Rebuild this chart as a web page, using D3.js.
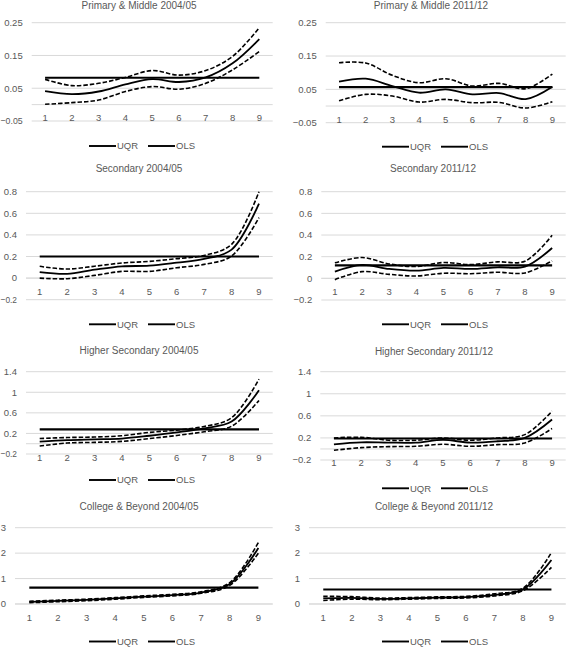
<!DOCTYPE html>
<html>
<head>
<meta charset="utf-8">
<script src="https://cdn.jsdelivr.net/npm/d3@7"></script>
<style>
  html, body { margin: 0; padding: 0; background: #fff; }
  svg { display: block; }
  text { font-family: "Liberation Sans", Arial, sans-serif; fill: #595959; }
</style>
</head>
<body>
<svg id="chart" width="567" height="647"></svg>
<script>
// ---------------- DATA ----------------
const categories = ["1", "2", "3", "4", "5", "6", "7", "8", "9"];

const titles = [
  "Primary & Middle 2004/05", "Primary & Middle 2011/12",
  "Secondary 2004/05", "Secondary  2011/12",
  "Higher Secondary 2004/05", "Higher Secondary 2011/12",
  "College & Beyond 2004/05", "College & Beyond 2011/12"
];

// y-axis tick values for each row
const yTicksPrimary = [-0.05, 0.05, 0.15, 0.25];
const yTicksSecondary = [-0.2, 0, 0.2, 0.4, 0.6, 0.8];
const yTicksHigher = [-0.2, 0.2, 0.6, 1, 1.4];
const yTicksCollege = [0, 1, 2, 3];

// UQR estimates
const uqr1 = [0.041, 0.032, 0.040, 0.062, 0.078, 0.069, 0.083, 0.126, 0.200];
const uqr2 = [0.073, 0.082, 0.060, 0.040, 0.050, 0.035, 0.039, 0.021, 0.058];
const uqr3 = [0.056, 0.040, 0.078, 0.109, 0.115, 0.143, 0.177, 0.264, 0.690];
const uqr4 = [0.062, 0.124, 0.087, 0.071, 0.096, 0.087, 0.102, 0.109, 0.280];
const uqr5 = [0.039, 0.070, 0.085, 0.100, 0.155, 0.220, 0.300, 0.430, 1.040];
const uqr6 = [0.085, 0.120, 0.115, 0.115, 0.165, 0.115, 0.140, 0.200, 0.533];
const uqr7 = [0.08, 0.12, 0.16, 0.22, 0.29, 0.35, 0.45, 0.79, 2.20];
const uqr8 = [0.22, 0.24, 0.20, 0.22, 0.25, 0.27, 0.36, 0.57, 1.73];

// Upper confidence bounds
const upper1 = [0.077, 0.058, 0.065, 0.083, 0.104, 0.090, 0.104, 0.147, 0.235];
const upper2 = [0.130, 0.129, 0.092, 0.070, 0.082, 0.060, 0.068, 0.052, 0.096];
const upper3 = [0.109, 0.084, 0.110, 0.140, 0.155, 0.180, 0.210, 0.313, 0.800];
const upper4 = [0.143, 0.192, 0.133, 0.109, 0.146, 0.127, 0.152, 0.158, 0.397];
const upper5 = [0.100, 0.120, 0.130, 0.155, 0.220, 0.265, 0.335, 0.505, 1.255];
const upper6 = [0.200, 0.212, 0.158, 0.158, 0.200, 0.158, 0.200, 0.260, 0.685];
const upper7 = [0.11, 0.15, 0.19, 0.25, 0.32, 0.38, 0.48, 0.84, 2.42];
const upper8 = [0.30, 0.29, 0.23, 0.25, 0.28, 0.30, 0.40, 0.62, 2.02];

// Lower confidence bounds
const lower1 = [0.001, 0.006, 0.014, 0.040, 0.055, 0.047, 0.065, 0.106, 0.162];
const lower2 = [0.016, 0.035, 0.030, 0.012, 0.020, 0.010, 0.011, -0.006, 0.013];
const lower3 = [0.000, -0.006, 0.025, 0.062, 0.062, 0.096, 0.127, 0.205, 0.560];
const lower4 = [-0.012, 0.062, 0.037, 0.022, 0.047, 0.043, 0.056, 0.050, 0.161];
const lower5 = [-0.045, 0.013, 0.026, 0.045, 0.100, 0.160, 0.233, 0.340, 0.840];
const lower6 = [-0.024, 0.024, 0.042, 0.048, 0.085, 0.048, 0.079, 0.109, 0.370];
const lower7 = [0.05, 0.09, 0.13, 0.19, 0.26, 0.32, 0.42, 0.73, 2.00];
const lower8 = [0.14, 0.19, 0.17, 0.19, 0.22, 0.24, 0.32, 0.52, 1.44];

// OLS estimates (constant across quantiles)
const ols = [0.082, 0.057, 0.200, 0.120, 0.280, 0.190, 0.640, 0.570];

const legendLabels = ["UQR", "OLS"];

// ---------------- LAYOUT (pixel geometry, not data) ----------------
const layout = [
  { x0: 31.7, x1: 272.7, yLo: 121.0, yHi: 22.7, dom: [-0.05, 0.25], ticks: yTicksPrimary, tx: 139, ty: 5, ly: 146, lx: 141 },
  { x0: 325.7, x1: 565.7, yLo: 122.7, yHi: 22.7, dom: [-0.05, 0.25], ticks: yTicksPrimary, tx: 431, ty: 5, ly: 146.7, lx: 434 },
  { x0: 26, x1: 272.7, yLo: 299.7, yHi: 191.7, dom: [-0.2, 0.8], ticks: yTicksSecondary, tx: 139, ty: 168, ly: 324.3, lx: 141 },
  { x0: 321.3, x1: 565.7, yLo: 300, yHi: 191.7, dom: [-0.2, 0.8], ticks: yTicksSecondary, tx: 433, ty: 168.3, ly: 324.3, lx: 434 },
  { x0: 26, x1: 272.7, yLo: 454, yHi: 371.7, dom: [-0.2, 1.4], ticks: yTicksHigher, tx: 139, ty: 350, ly: 480, lx: 141 },
  { x0: 320.3, x1: 565.7, yLo: 460, yHi: 371.7, dom: [-0.2, 1.4], ticks: yTicksHigher, tx: 434, ty: 351, ly: 488.3, lx: 434 },
  { x0: 15, x1: 272.7, yLo: 604, yHi: 527.7, dom: [0, 3], ticks: yTicksCollege, tx: 139, ty: 506, ly: 641.5, lx: 141 },
  { x0: 309, x1: 565.7, yLo: 604, yHi: 527.7, dom: [0, 3], ticks: yTicksCollege, tx: 434, ty: 506, ly: 641.5, lx: 434 }
];

const uqrAll = [uqr1, uqr2, uqr3, uqr4, uqr5, uqr6, uqr7, uqr8];
const upperAll = [upper1, upper2, upper3, upper4, upper5, upper6, upper7, upper8];
const lowerAll = [lower1, lower2, lower3, lower4, lower5, lower6, lower7, lower8];

const svg = d3.select("#chart");
const fmt = d3.format(".2~f");

layout.forEach((L, i) => {
  const g = svg.append("g");
  const x = d3.scaleBand().domain(categories).range([L.x0, L.x1]).padding(0);
  const y = d3.scaleLinear().domain(L.dom).range([L.yLo, L.yHi]);
  const cx = c => x(c) + x.bandwidth() / 2;

  // gridlines
  g.selectAll(".grid").data(L.ticks).enter().append("line")
    .attr("x1", L.x0).attr("x2", L.x1)
    .attr("y1", d => y(d)).attr("y2", d => y(d))
    .attr("stroke", "#d9d9d9").attr("stroke-width", 1);

  // horizontal axis line at 0
  g.append("line")
    .attr("x1", L.x0).attr("x2", L.x1)
    .attr("y1", y(0)).attr("y2", y(0))
    .attr("stroke", "#d9d9d9").attr("stroke-width", 1);

  // y tick labels
  const rightEdge = L.x0 - 9;
  g.selectAll(".yl").data(L.ticks).enter().append("text")
    .attr("x", rightEdge).attr("y", d => y(d))
    .attr("dy", "0.35em").attr("text-anchor", "end")
    .attr("font-size", 9.5)
    .text(d => fmt(d))
    .each(function () {
      // keep long labels inside the picture by condensing them slightly
      const w = this.getComputedTextLength();
      if (rightEdge - w < 0.5) {
        d3.select(this).attr("textLength", rightEdge - 0.5)
          .attr("lengthAdjust", "spacingAndGlyphs");
      }
    });

  // x tick labels next to axis at 0
  g.selectAll(".xl").data(categories).enter().append("text")
    .attr("x", d => cx(d)).attr("y", y(0) + 13.5)
    .attr("dy", "0.35em").attr("text-anchor", "middle")
    .attr("font-size", 9.5)
    .text(d => d);

  // title
  g.append("text")
    .attr("x", L.tx).attr("y", L.ty).attr("dy", "0.35em")
    .attr("text-anchor", "middle").attr("font-size", 10)
    .text(titles[i]);

  const line = d3.line()
    .x((d, j) => cx(categories[j]))
    .y(d => y(d))
    .curve(d3.curveCatmullRom.alpha(0.5));

  // OLS constant line
  const olsVals = categories.map(() => ols[i]);
  g.append("path").attr("d", d3.line().x((d, j) => cx(categories[j])).y(d => y(d))(olsVals))
    .attr("fill", "none").attr("stroke", "#000").attr("stroke-width", 2.2);

  // CI bounds (dashed)
  [upperAll[i], lowerAll[i]].forEach(arr => {
    g.append("path").attr("d", line(arr))
      .attr("fill", "none").attr("stroke", "#000").attr("stroke-width", 1.6)
      .attr("stroke-dasharray", "4.5,2");
  });

  // UQR
  g.append("path").attr("d", line(uqrAll[i]))
    .attr("fill", "none").attr("stroke", "#000").attr("stroke-width", 1.8);

  // legend
  const lg = g.append("g");
  let lx = L.lx - 52;
  legendLabels.forEach((lab) => {
    lg.append("line").attr("x1", lx).attr("x2", lx + 27)
      .attr("y1", L.ly).attr("y2", L.ly)
      .attr("stroke", "#000").attr("stroke-width", 1.9);
    lg.append("text").attr("x", lx + 28).attr("y", L.ly).attr("dy", "0.35em")
      .attr("font-size", 9.5).text(lab);
    lx += 59;
  });
});
</script>
</body>
</html>
